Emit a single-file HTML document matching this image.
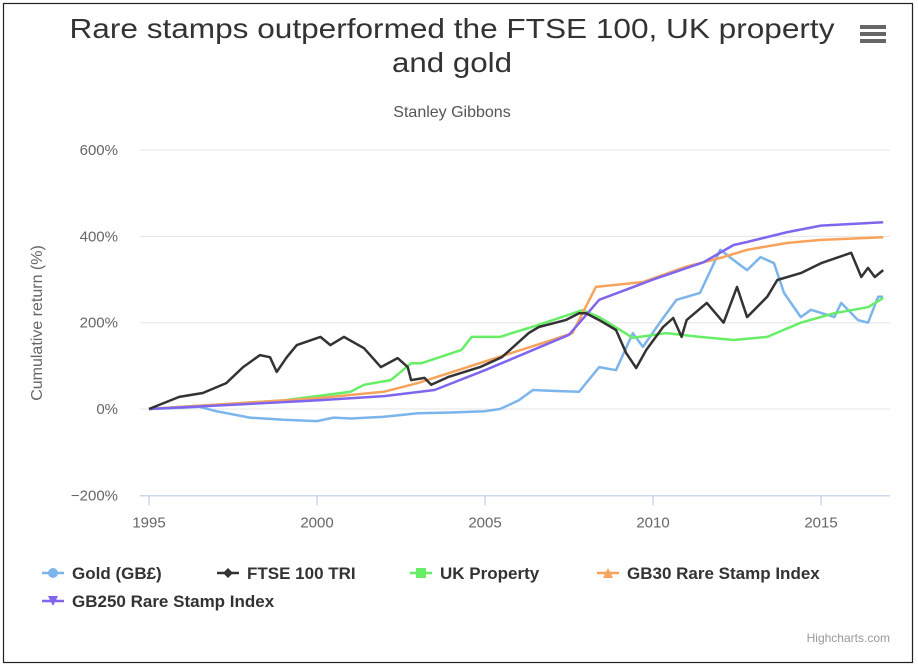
<!DOCTYPE html>
<html><head><meta charset="utf-8"><style>
body{margin:0;background:#fff;}
svg{display:block;font-family:"Liberation Sans",sans-serif;}
</style></head><body>
<svg id="chart" width="918" height="669" viewBox="0 0 918 669">
<rect x="3.5" y="3.5" width="909" height="659" fill="#fff" stroke="#222" stroke-width="1.2"/>
<text x="452" y="38" text-anchor="middle" font-size="28" fill="#333" textLength="765" lengthAdjust="spacingAndGlyphs">Rare stamps outperformed the FTSE 100, UK property</text>
<text x="452" y="72" text-anchor="middle" font-size="28" fill="#333" textLength="120" lengthAdjust="spacingAndGlyphs">and gold</text>
<text x="452" y="117" text-anchor="middle" font-size="16" fill="#555">Stanley Gibbons</text>
<g>
<rect x="860" y="25" width="26" height="4" fill="#666"/><rect x="860" y="32" width="26" height="4" fill="#666"/><rect x="860" y="39" width="26" height="4" fill="#666"/>
</g>
<text transform="translate(42,323) rotate(-90)" text-anchor="middle" font-size="16" fill="#666">Cumulative return (%)</text>
<g id="axes"></g>
<g id="series"></g>
<g id="legend"></g>
<text x="890" y="642" text-anchor="end" font-size="12" fill="#999">Highcharts.com</text>
</svg>
<script>
const yTicks=[-200,0,200,400,600];
const yTickLabels=["−200%","0%","200%","400%","600%"];
const xTicks=[1995,2000,2005,2010,2015];
const seriesNames=["Gold (GB£)","FTSE 100 TRI","UK Property","GB30 Rare Stamp Index","GB250 Rare Stamp Index"];
const goldYears=[1995,1996,1996.5,1997,1998,1999,2000,2000.5,2001,2002,2003,2004,2005,2005.45,2006,2006.43,2007,2007.8,2008.4,2008.9,2009.4,2009.7,2010.2,2010.7,2011.4,2012,2012.4,2012.8,2013.2,2013.6,2013.9,2014.4,2014.7,2015.4,2015.6,2016.1,2016.4,2016.7,2016.85];
const goldValues=[0,3,5,-5,-20,-25,-28,-20,-22,-18,-10,-8,-5,0,20,44,42,40,97,90,176,144,200,253,269,369,345,322,352,338,269,213,230,213,246,206,200,260,260];
const ftseYears=[1995,1995.9,1996.6,1997.3,1997.8,1998.3,1998.6,1998.8,1999.1,1999.4,2000.1,2000.4,2000.8,2001.4,2001.9,2002.4,2002.7,2002.8,2003.2,2003.4,2003.9,2004.85,2005.5,2006.3,2006.6,2007.4,2007.8,2008,2008.4,2008.9,2009.2,2009.5,2009.8,2010.3,2010.6,2010.85,2011,2011.6,2012.1,2012.5,2012.8,2013.4,2013.7,2014.4,2015,2015.9,2016.2,2016.4,2016.6,2016.85];
const ftseValues=[0,28,37,60,97,125,120,86,120,148,167,148,167,141,97,118,97,67,72,56,74,97,120,176,190,206,222,222,206,183,130,95,137,190,211,167,206,246,200,283,213,260,299,315,338,362,306,327,306,322];
const propYears=[1995,1996,1997,1998,1999,2000,2001,2001.4,2002.2,2002.8,2003.1,2004.3,2004.6,2005.45,2005.8,2006.4,2007.9,2008.4,2009.4,2010.4,2011.4,2012.4,2013.4,2014.4,2015.4,2016.4,2016.85];
const propValues=[0,5,10,15,20,30,40,56,67,106,106,137,167,167,176,190,229,213,165,176,167,160,167,200,222,236,257];
const gb30Years=[1995,2000,2002,2003,2004,2005,2006,2007,2007.6,2008.3,2009.7,2011,2012,2012.8,2014,2015,2016.85];
const gb30Values=[0,25,40,60,85,110,135,160,176,283,294,330,350,369,385,392,398];
const gb250Years=[1995,2000,2002,2003.5,2005,2007.5,2008.4,2010,2011.5,2012.4,2012.8,2014,2015,2016.85];
const gb250Values=[0,20,30,44,90,172,253,300,340,380,387,410,425,433];
const colors=["#7cb5ec","#333333","#66ee66","#f7a35c","#8066ee"];
const NS="http://www.w3.org/2000/svg";
const xS=v=>149+(v-1995)*33.6;
const yS=v=>409-v*86.3/200;
function mk(tag,attrs,parent){const e=document.createElementNS(NS,tag);for(const k in attrs)e.setAttribute(k,attrs[k]);parent.appendChild(e);return e;}
const axes=document.getElementById('axes');
yTicks.forEach((t,i)=>{
  if(t>-200){const g=mk('line',{x1:140,x2:890,y1:yS(t),y2:yS(t),stroke:'#e6e6e6','stroke-width':1},axes);
  
  }
  const l=mk('text',{x:118,y:yS(t)+5,'text-anchor':'end','font-size':15,fill:'#666'},axes);l.textContent=yTickLabels[i];
  
  
});
const ax=mk('line',{x1:140,x2:890,y1:yS(-200)+0.5,y2:yS(-200)+0.5,stroke:'#ccd6eb','stroke-width':1.5},axes);


xTicks.forEach(t=>{
  const tk=mk('line',{x1:xS(t),x2:xS(t),y1:yS(-200),y2:yS(-200)+10,stroke:'#ccd6eb','stroke-width':1.5},axes);
  
  
  const l=mk('text',{x:xS(t),y:yS(-200)+32,'text-anchor':'middle','font-size':15,fill:'#666'},axes);l.textContent=t;
  
  
});
const data=[[goldYears,goldValues],[ftseYears,ftseValues],[propYears,propValues],[gb30Years,gb30Values],[gb250Years,gb250Values]];
const order=[0,2,3,4,1];
const sg=document.getElementById('series');
const keys=['gold','ftse','property','gb30','gb250'];
order.forEach(i=>{
  const [xs,ys]=data[i];
  const d=xs.map((x,j)=>(j?'L':'M')+xS(x).toFixed(1)+','+yS(ys[j]).toFixed(1)).join('');
  const p=mk('path',{d:d,fill:'none',stroke:colors[i],'stroke-width':2.5,'stroke-linejoin':'round'},sg);
  
  
});
const lg=document.getElementById('legend');
const pos=[[42,573],[217,573],[410,573],[597,573],[42,601]];
function marker(i,cx,cy,g){
  const c=colors[i];
  if(i==0)return mk('circle',{cx:cx,cy:cy,r:5,fill:c},g);
  if(i==1)return mk('path',{d:`M${cx},${cy-5}L${cx+5},${cy}L${cx},${cy+5}L${cx-5},${cy}Z`,fill:c},g);
  if(i==2)return mk('rect',{x:cx-5,y:cy-5,width:10,height:10,fill:c},g);
  if(i==3)return mk('path',{d:`M${cx},${cy-5}L${cx+5},${cy+5}L${cx-5},${cy+5}Z`,fill:c},g);
  return mk('path',{d:`M${cx-5},${cy-5}L${cx+5},${cy-5}L${cx},${cy+5}Z`,fill:c},g);
}
seriesNames.forEach((n,i)=>{
  const [x,y]=pos[i];
  const g=mk('g',{},lg);
  
  
  mk('line',{x1:x,x2:x+22,y1:y,y2:y,stroke:colors[i],'stroke-width':2.5},g);
  marker(i,x+11,y,g);
  const t=mk('text',{x:x+30,y:y+6,'font-size':17,'font-weight':'bold',fill:'#333'},g);t.textContent=n;
});
</script>
</body></html>
